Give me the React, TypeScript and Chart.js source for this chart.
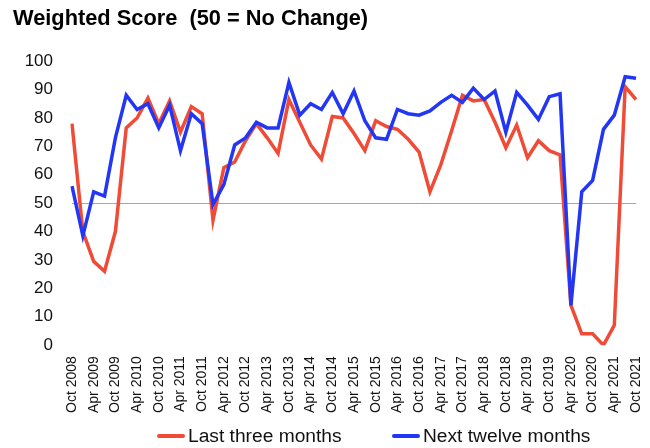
import React, { useEffect, useRef } from "react";
import { Chart, registerables } from "chart.js";

Chart.register(...registerables);

const categories: string[] = [
  "Oct 2008", "Jan 2009", "Apr 2009", "Jul 2009", "Oct 2009", "Jan 2010", "Apr 2010", "Jul 2010",
  "Oct 2010", "Jan 2011", "Apr 2011", "Jul 2011", "Oct 2011", "Jan 2012", "Apr 2012", "Jul 2012",
  "Oct 2012", "Jan 2013", "Apr 2013", "Jul 2013", "Oct 2013", "Jan 2014", "Apr 2014", "Jul 2014",
  "Oct 2014", "Jan 2015", "Apr 2015", "Jul 2015", "Oct 2015", "Jan 2016", "Apr 2016", "Jul 2016",
  "Oct 2016", "Jan 2017", "Apr 2017", "Jul 2017", "Oct 2017", "Jan 2018", "Apr 2018", "Jul 2018",
  "Oct 2018", "Jan 2019", "Apr 2019", "Jul 2019", "Oct 2019", "Jan 2020", "Apr 2020", "Jul 2020",
  "Oct 2020", "Jan 2021", "Apr 2021", "Jul 2021", "Oct 2021",
];

const lastThreeMonths: number[] = [
  78, 40, 29.5, 26, 40, 76.5, 80, 87,
  78, 86, 75, 84, 81.5, 44, 62.5, 64.5,
  72, 78, 73, 67.5, 86.5, 78.5, 70.5, 65.5,
  80.5, 80, 74.5, 68.5, 79, 77, 76, 72.5,
  68, 54, 63.5, 75.5, 88, 86, 86.5, 78.5,
  69.5, 77.5, 66, 72, 68.5, 67, 14, 4,
  4, 0, 7, 91, 86.5,
];

const nextTwelveMonths: number[] = [
  56, 38.5, 54, 52.5, 73, 88, 83, 85,
  76.5, 84.5, 68.5, 81.5, 78, 49.5, 56.5, 70.5,
  73, 78.5, 76.5, 76.5, 92.5, 81, 85, 83,
  89, 81.5, 89.5, 79, 73, 72.5, 83, 81.5,
  81, 82.5, 85.5, 88, 85.5, 90.5, 86.5, 89.5,
  75, 89, 84.5, 79.5, 87.5, 88.5, 14, 54,
  58, 76, 81, 94.5, 94,
];

const seriesNames = ["Last three months", "Next twelve months"];
const seriesColors = ["#EF4B36", "#2236F4"];
const titleText = "Weighted Score  (50 = No Change)";
const FONT = "'Liberation Sans', Arial, sans-serif";

export default function App() {
  const ref = useRef<HTMLCanvasElement | null>(null);

  useEffect(() => {
    if (!ref.current) return;
    const chart = new Chart(ref.current, {
      type: "line",
      data: {
        labels: categories,
        datasets: [
          {
            label: seriesNames[0],
            data: lastThreeMonths,
            borderColor: seriesColors[0],
            backgroundColor: seriesColors[0],
            borderWidth: 3.5,
            pointRadius: 0,
            tension: 0,
            order: 1,
          },
          {
            label: seriesNames[1],
            data: nextTwelveMonths,
            borderColor: seriesColors[1],
            backgroundColor: seriesColors[1],
            borderWidth: 3.5,
            pointRadius: 0,
            tension: 0,
            order: 0,
          },
        ],
      },
      options: {
        responsive: false,
        animation: false,
        layout: { padding: { left: 13, right: 14, top: 0, bottom: 24 } },
        plugins: {
          legend: { display: false },
          tooltip: { enabled: false },
          title: {
            display: true,
            text: titleText,
            align: "start",
            color: "#000",
            font: { family: FONT, size: 21.8, weight: "bold" },
            padding: { top: 6, bottom: 29 },
          },
        },
        scales: {
          x: {
            offset: false,
            grid: { display: false, drawTicks: false },
            border: { display: false },
            ticks: {
              autoSkip: false,
              maxRotation: 90,
              minRotation: 90,
              padding: 11,
              color: "#111",
              font: { family: FONT, size: 14 },
              callback: (_v: any, i: number) => (i % 2 === 0 ? categories[i] : ""),
            },
            afterFit: (scale: any) => {
              scale.paddingLeft = 0;
              scale.paddingRight = 0;
            },
          },
          y: {
            min: 0,
            max: 100,
            border: { display: false },
            grid: {
              drawTicks: false,
              color: (ctx: any) => (ctx.tick && ctx.tick.value === 50 ? "#A6A6A6" : "rgba(0,0,0,0)"),
              lineWidth: 1,
            },
            ticks: {
              stepSize: 10,
              padding: 19,
              color: "#111",
              font: { family: FONT, size: 17 },
            },
            afterFit: (scale: any) => {
              scale.width = 59;
            },
          },
        },
      },
    });
    return () => chart.destroy();
  }, []);

  const legendItem = (i: number, left: number) => (
    <div
      key={i}
      style={{
        position: "absolute",
        left,
        top: 425,
        display: "flex",
        alignItems: "center",
        fontFamily: FONT,
        fontSize: 19.2,
        lineHeight: "normal",
        color: "#111",
        whiteSpace: "nowrap",
      }}
    >
      <span
        style={{
          display: "inline-block",
          width: 28,
          height: 4,
          borderRadius: 2,
          background: seriesColors[i],
          marginRight: 3,
        }}
      />
      <span>{seriesNames[i]}</span>
    </div>
  );

  return (
    <div style={{ position: "fixed", left: 0, top: 0, width: 650, height: 448, background: "#fff" }}>
      <canvas ref={ref} width={650} height={448} style={{ display: "block" }} />
      {legendItem(0, 157)}
      {legendItem(1, 392)}
    </div>
  );
}
